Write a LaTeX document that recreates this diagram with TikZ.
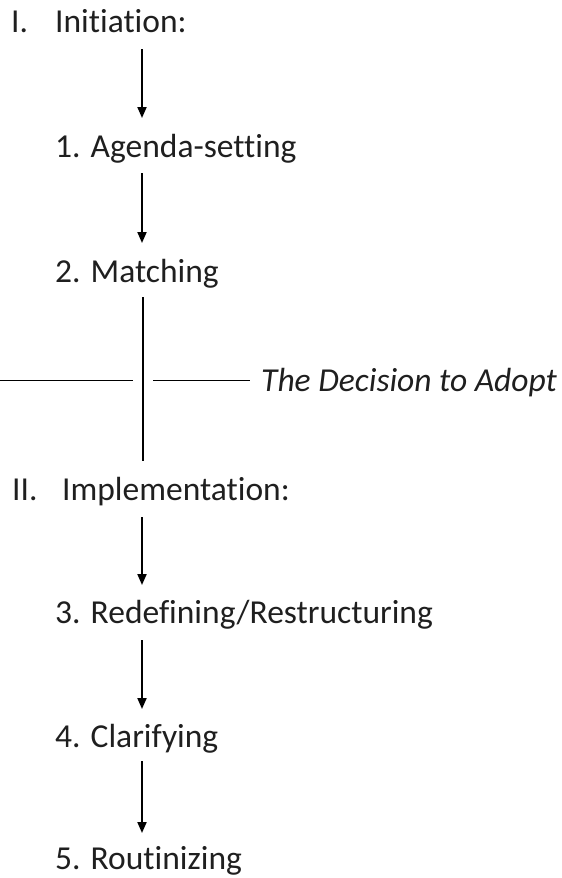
\documentclass[tikz,border=0pt]{standalone}
\usepackage{fontspec}
\setmainfont{Carlito}[Ligatures={NoCommon}]
\usetikzlibrary{arrows.meta,calc}
\begin{document}
\begin{tikzpicture}[x=1pt,y=-1pt,
  label/.style={anchor=base west,inner sep=0pt,text=black!88,
    font=\fontsize{33.5pt}{40pt}\selectfont},
  flow/.style={line width=2pt,-{Triangle[width=9pt,length=11pt]}},
  stem/.style={line width=2pt},
  rule/.style={line width=1pt}]
  \useasboundingbox (0,0) rectangle (562,878);

  % column of the connectors
  \coordinate (ax) at (142,0);

  % phase headings and stages
  \node[label] (init)   at (11,32)  {\makebox[44pt][l]{I.}Initiation:};
  \node[label] (agenda) at (55,157) {1. Agenda-setting};
  \node[label] (match)  at (55,282) {2. Matching};
  \node[label] (impl)   at (12,500) {\makebox[50pt][l]{II.}Implementation:};
  \node[label] (redef)  at (55,623) {3. Redefining/Restructuring};
  \node[label] (clar)   at (55,747) {4. Clarifying};
  \node[label] (rout)   at (55,869) {5. Routinizing};
  \node[label,font=\fontsize{33.5pt}{40pt}\selectfont\itshape] (decision)
    at (261,391) {The Decision to Adopt};

  % arrows between stages
  \draw[flow] ($(ax |- init.base)+(0,17)$)   -- ($(ax |- agenda.base)+(0,-39)$);
  \draw[flow] ($(ax |- agenda.base)+(0,16)$) -- ($(ax |- match.base)+(0,-39)$);
  \draw[flow] ($(ax |- impl.base)+(0,17)$)   -- ($(ax |- redef.base)+(0,-38)$);
  \draw[flow] ($(ax |- redef.base)+(0,17)$)  -- ($(ax |- clar.base)+(0,-38)$);
  \draw[flow] ($(ax |- clar.base)+(0,14)$)   -- ($(ax |- rout.base)+(0,-36)$);

  % the decision point
  \coordinate (cross) at (143,380);
  \coordinate (edge) at (0,380);
  \draw[stem] ($(cross |- match.base)+(0,15)$) -- ($(cross |- impl.base)+(0,-39)$);
  \draw[rule] (edge) -- ($(cross)+(-10,0)$);
  \draw[rule] ($(cross)+(10,0)$) -- ($(decision.base west)+(-11,-11)$);
\end{tikzpicture}
\end{document}
